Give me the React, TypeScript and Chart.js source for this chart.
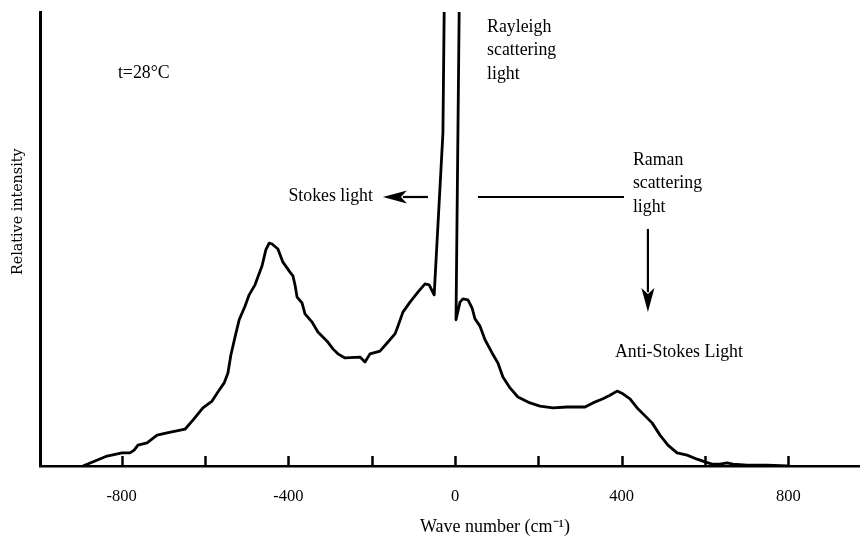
import React, { useEffect, useRef } from 'react';
import { Chart, registerables } from 'chart.js';

Chart.register(...registerables);

// Wave number (cm^-1) of each traced point of the spectrum
const waveNumber = [
  -893, -864, -835, -799, -780, -770, -761, -739, -715, -691, -648, -629, -605, -583, -569, -554, -545, -538, -528, -518,
  -504, -494, -480, -463, -454, -446, -439, -425, -413, -396, -389, -384, -379, -367, -360, -343, -329, -307, -293, -281,
  -264, -228, -216, -204, -180, -163, -144, -137, -125, -108, -89, -72, -62, -50, -29, -26, -24, 10, 10, 2.4,
  12, 19, 31, 41, 48, 60, 72, 89, 103, 115, 132, 151, 180, 204, 235, 269, 312, 331, 355, 372,
  389, 403, 420, 439, 461, 473, 492, 511, 533, 557, 581, 600, 617, 636, 653, 667, 701, 749, 797,
];

// Relative intensity (0 = baseline, 100 = top of the frame; the Rayleigh line runs off the top)
const intensity = [
  0, 1.1, 2.2, 2.9, 2.9, 3.5, 4.6, 5.1, 6.8, 7.3, 8.1, 10.1, 12.8, 14.3, 16.3, 18.3, 20.5, 24.4, 28.4, 32.2,
  35.2, 37.7, 39.9, 44.1, 47.6, 49.1, 48.9, 47.8, 44.9, 42.7, 41.9, 39.9, 37.2, 35.9, 33.5, 31.7, 29.5, 27.5, 25.8, 24.7,
  23.8, 24.0, 22.9, 24.7, 25.3, 27.1, 29.1, 30.8, 33.9, 36.1, 38.3, 40.1, 39.9, 37.7, 73.3, 100, 125, 125, 100, 32.2,
  36.1, 36.8, 36.6, 34.8, 32.4, 30.8, 27.8, 24.9, 22.7, 19.6, 17.2, 15.2, 13.9, 13.2, 12.8, 13.0, 13.0, 13.9, 14.8, 15.6,
  16.5, 15.9, 14.8, 12.6, 10.6, 9.5, 6.8, 4.6, 2.9, 2.4, 1.5, 0.9, 0.4, 0.4, 0.7, 0.4, 0.2, 0.2, 0,
];

const tickValues = [-800, -600, -400, -200, 0, 200, 400, 600, 800];
const labeledTicks = [-800, -400, 0, 400, 800];

const xTitle = 'Wave number (cm⁻¹)';
const yTitle = 'Relative intensity';

// Text notes, anchored in data coordinates (first line centre)
const notes = [
  { lines: ['t=28°C'], x: -809, y: 86.6, align: 'left' },
  { lines: ['Rayleigh', 'scattering', 'light'], x: 77, y: 96.7, align: 'left' },
  { lines: ['Stokes light'], x: -197, y: 59.3, align: 'right' },
  { lines: ['Raman', 'scattering', 'light'], x: 427, y: 67.4, align: 'left' },
  { lines: ['Anti-Stokes Light'], x: 384, y: 25.1, align: 'left' },
];

// Arrows and lines, in data coordinates
const arrows = [
  { from: [-65, 59.25], to: [-173, 59.25], head: true },
  { from: [55, 59.25], to: [396, 59.25], head: false },
  { from: [463, 52.2], to: [463, 33.9], head: true },
];

const SERIF = '"Liberation Serif", "Times New Roman", serif';

const annotationPlugin = {
  id: 'spectrumNotes',
  afterDatasetsDraw(chart: any) {
    const { ctx, scales } = chart;
    const x = scales.x;
    const y = scales.y;
    ctx.save();
    ctx.strokeStyle = '#000';
    ctx.fillStyle = '#000';

    // inward tick marks
    const base = y.getPixelForValue(0);
    ctx.lineWidth = 2.5;
    tickValues.forEach((v) => {
      const px = Math.round(x.getPixelForValue(v)) + 0.5;
      ctx.beginPath();
      ctx.moveTo(px, base);
      ctx.lineTo(px, base - 10);
      ctx.stroke();
    });

    // arrows
    arrows.forEach((a) => {
      const x1 = x.getPixelForValue(a.from[0]);
      const y1 = y.getPixelForValue(a.from[1]);
      const x2 = x.getPixelForValue(a.to[0]);
      const y2 = y.getPixelForValue(a.to[1]);
      const dx = x2 - x1;
      const dy = y2 - y1;
      const len = Math.hypot(dx, dy);
      const ux = dx / len;
      const uy = dy / len;
      const headLen = a.head ? 24 : 0;
      ctx.lineWidth = 2.2;
      ctx.beginPath();
      ctx.moveTo(x1, y1);
      ctx.lineTo(x2 - ux * (headLen - 4), y2 - uy * (headLen - 4));
      ctx.stroke();
      if (a.head) {
        const hw = 6.5;
        const bx = x2 - ux * headLen;
        const by = y2 - uy * headLen;
        const nx = -uy;
        const ny = ux;
        ctx.beginPath();
        ctx.moveTo(x2, y2);
        ctx.lineTo(bx + nx * hw, by + ny * hw);
        ctx.lineTo(x2 - ux * (headLen - 6), y2 - uy * (headLen - 6));
        ctx.lineTo(bx - nx * hw, by - ny * hw);
        ctx.closePath();
        ctx.fill();
      }
    });

    // notes
    ctx.font = `17.8px ${SERIF}`;
    ctx.textBaseline = 'middle';
    notes.forEach((n) => {
      const px = x.getPixelForValue(n.x);
      const py = y.getPixelForValue(n.y);
      ctx.textAlign = n.align as CanvasTextAlign;
      n.lines.forEach((line, i) => {
        ctx.fillText(line, px, py + i * 23.5);
      });
    });

    // axis titles
    ctx.textAlign = 'center';
    ctx.font = `18px ${SERIF}`;
    ctx.fillText(xTitle, x.getPixelForValue(96), 527);

    ctx.save();
    ctx.translate(18, y.getPixelForValue(56));
    ctx.rotate(-Math.PI / 2);
    ctx.font = '14.3px "DejaVu Serif", serif';
    ctx.fillText(yTitle, 0, 0);
    ctx.restore();

    ctx.restore();
  },
};

export default function App() {
  const canvasRef = useRef<HTMLCanvasElement | null>(null);

  useEffect(() => {
    if (!canvasRef.current) return;
    const points = waveNumber.map((w, i) => ({ x: w, y: intensity[i] }));
    const chart = new Chart(canvasRef.current, {
      type: 'line',
      data: {
        datasets: [
          {
            data: points,
            borderColor: '#000',
            borderWidth: 2.8,
            pointRadius: 0,
            tension: 0,
            fill: false,
            borderJoinStyle: 'round',
            borderCapStyle: 'round',
          },
        ],
      },
      options: {
        responsive: false,
        animation: false,
        parsing: false as any,
        events: [],
        layout: { padding: { top: 12, left: 0, right: 0, bottom: 0 } },
        plugins: {
          legend: { display: false },
          tooltip: { enabled: false },
          title: { display: false },
        },
        scales: {
          x: {
            type: 'linear',
            min: -996,
            max: 972,
            grid: { display: false },
            border: { display: true, color: '#000', width: 2.5 },
            afterBuildTicks: (scale: any) => {
              scale.ticks = tickValues.map((v) => ({ value: v }));
            },
            afterFit: (scale: any) => {
              scale.height = 76;
            },
            ticks: {
              autoSkip: false,
              maxRotation: 0,
              padding: 13,
              color: '#000',
              font: { family: SERIF, size: 16.5 },
              callback: (v: any) => (labeledTicks.includes(Number(v)) ? String(v) : ''),
            },
          },
          y: {
            type: 'linear',
            min: 0,
            max: 100,
            grid: { display: false },
            border: { display: true, color: '#000', width: 3 },
            ticks: { display: false },
            afterFit: (scale: any) => {
              scale.width = 40;
            },
          },
        },
      },
      plugins: [annotationPlugin],
    });
    return () => chart.destroy();
  }, []);

  return (
    <div style={{ position: 'fixed', left: 0, top: 0, width: 860, height: 542, background: '#fff' }}>
      <canvas ref={canvasRef} width={860} height={542} style={{ display: 'block' }} />
    </div>
  );
}
